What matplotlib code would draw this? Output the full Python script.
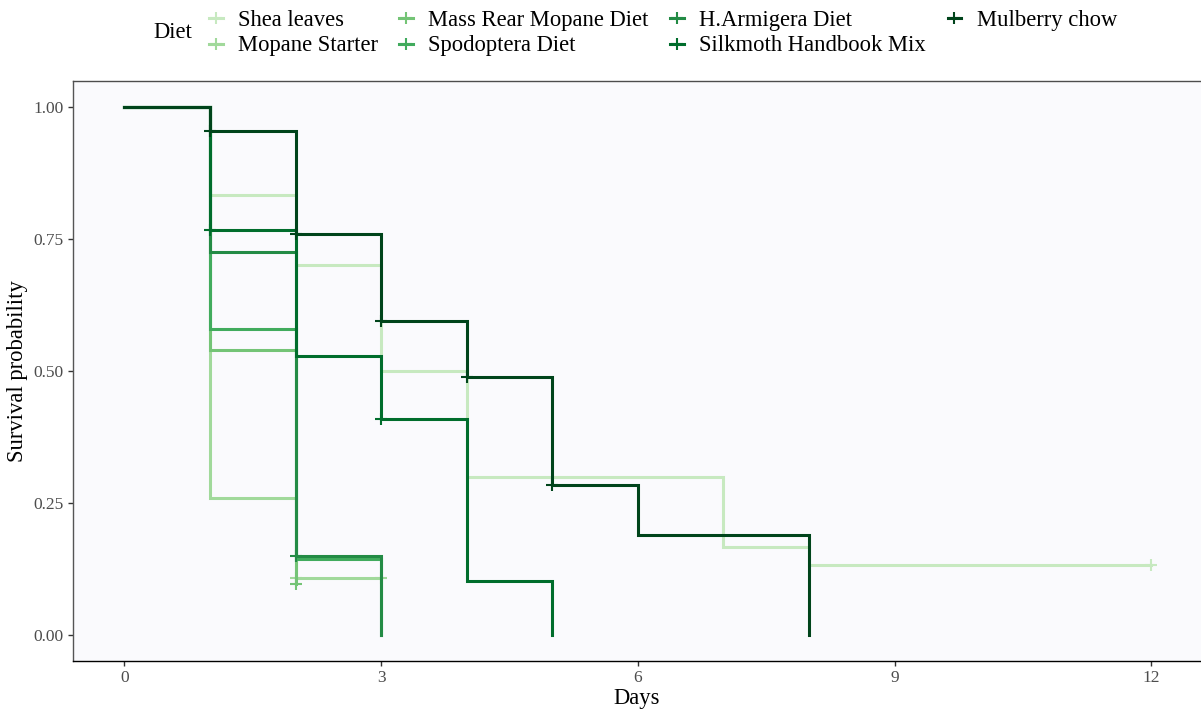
import matplotlib
matplotlib.use('Agg')
import matplotlib.pyplot as plt
from matplotlib.lines import Line2D

plt.rcParams['font.family'] = ['Liberation Serif', 'DejaVu Serif']

diets = ['Shea leaves', 'Mopane Starter', 'Mass Rear Mopane Diet', 'Spodoptera Diet',
         'H.Armigera Diet', 'Silkmoth Handbook Mix', 'Mulberry chow']
colors = ['#C7E9C0', '#A1D99B', '#74C476', '#41AB5D', '#238B45', '#006D2C', '#00441B']

# Kaplan-Meier step curves per diet (time in days, survival probability)
times = [
    [0, 1, 2, 3, 4, 7, 8, 12],
    [0, 1, 2, 3],
    [0, 1, 2],
    [0, 1, 2, 3],
    [0, 1, 2, 3],
    [0, 1, 2, 3, 4, 5],
    [0, 1, 2, 3, 4, 5, 6, 8],
]
surv = [
    [1.0, 0.833, 0.70, 0.50, 0.30, 0.167, 0.133, 0.133],
    [1.0, 0.26, 0.108, 0.108],
    [1.0, 0.54, 0.097],
    [1.0, 0.58, 0.143, 0.0],
    [1.0, 0.725, 0.149, 0.0],
    [1.0, 0.767, 0.528, 0.409, 0.102, 0.0],
    [1.0, 0.955, 0.76, 0.595, 0.489, 0.285, 0.19, 0.0],
]
# censoring marks
cens_t = [
    [12],
    [2, 3],
    [2],
    [],
    [2],
    [1, 3],
    [1, 2, 3, 4, 5],
]
cens_s = [
    [0.133],
    [0.108, 0.108],
    [0.097],
    [],
    [0.149],
    [0.767, 0.409],
    [0.955, 0.76, 0.595, 0.489, 0.285],
]

fig = plt.figure(figsize=(12.01, 7.09), dpi=100)
ax = fig.add_axes([73 / 1201, 1 - 661.4 / 709, 1128 / 1201, 580.8 / 709])
ax.set_facecolor('#FAFAFD')

for t, s, ct, cs, c in zip(times, surv, cens_t, cens_s, colors):
    ax.step(t, s, where='post', color=c, lw=2.2, solid_joinstyle='miter')
    ax.plot(ct, cs, ls='none', marker='+', ms=8, mew=1.5, color=c)

ax.set_xlim(-0.6, 12.58)
ax.set_ylim(-0.05, 1.05)
ax.set_xticks([0, 3, 6, 9, 12])
ax.set_yticks([0, 0.25, 0.5, 0.75, 1.0])
ax.set_yticklabels(['0.00', '0.25', '0.50', '0.75', '1.00'])
ax.tick_params(labelsize=12.5, labelcolor='#4D4D4D', length=3.5, width=1, color='#333333', pad=3)
ax.set_xlabel('Days', fontsize=16.3, labelpad=1)
ax.set_ylabel('Survival probability', fontsize=16.3, labelpad=4)

ax.spines['right'].set_visible(False)
ax.spines['top'].set_color('#4D4D4D')
ax.spines['left'].set_color('#555555')
ax.spines['bottom'].set_color('black')
for sp in ax.spines.values():
    sp.set_linewidth(1.0)

handles = [Line2D([], [], color=c, lw=2.2, marker='+', ms=8, mew=1.5) for c in colors]
fig.text(153 / 1201, 1 - 33 / 709, 'Diet', fontsize=16.3, va='center', ha='left')
fig.legend(handles, diets, loc='center left', bbox_to_anchor=(209 / 1201, 1 - 33 / 709),
           ncol=4, frameon=False, fontsize=16.3, handlelength=0.6, handletextpad=0.68,
           columnspacing=0.95, labelspacing=0.22, borderpad=0, borderaxespad=0)

fig.savefig('out.png', dpi=100)
